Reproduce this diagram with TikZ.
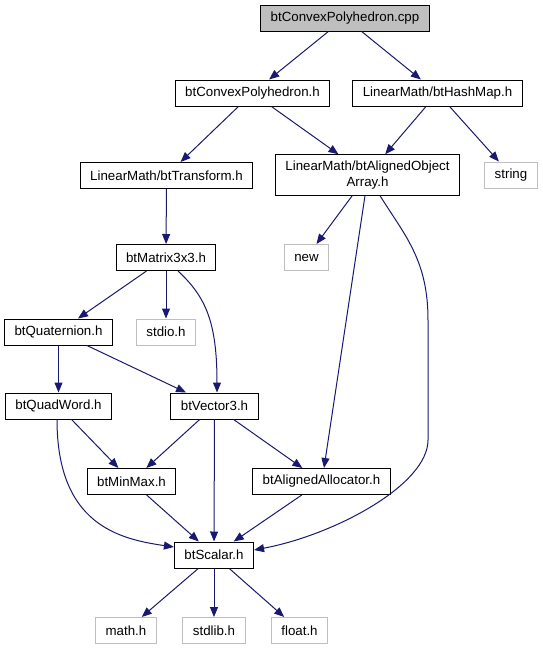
\documentclass[tikz,border=0pt]{standalone}
\usepackage{fontspec}
\setmainfont{Liberation Sans}
\usepackage{xcolor}
\usetikzlibrary{arrows.meta}
\definecolor{edgeblue}{HTML}{191970}
\definecolor{sysgray}{HTML}{BFBFBF}

\begin{document}
\begin{tikzpicture}[x=1pt, y=-1pt,
    file/.style={rectangle,draw=black,line width=1pt,inner xsep=10pt,inner ysep=6pt,minimum height=26pt,align=center,font=\fontsize{13.3}{16}\selectfont},
    sys/.style={file,draw=sysgray},
    root/.style={file,fill=sysgray},
    dep/.style={draw=edgeblue,line width=1pt,-{Triangle[length=10pt,width=8pt]}}]
    \useasboundingbox (0,0) rectangle (543,649);

    \node[root] (cpp) at (345,18) {btConvexPolyhedron.cpp};
    \node[file] (cph) at (252.5,93) {btConvexPolyhedron.h};
    \node[file] (hmap) at (437.5,93) {LinearMath/btHashMap.h};
    \node[file] (trans) at (166.5,175.5) {LinearMath/btTransform.h};
    \node[file] (aoa) at (367.5,175) {LinearMath/btAlignedObject\\Array.h};
    \node[sys] (string) at (511,175) {string};
    \node[file] (mat) at (166,257.5) {btMatrix3x3.h};
    \node[sys] (new) at (306.5,257.5) {new};
    \node[file] (quat) at (58.5,332) {btQuaternion.h};
    \node[sys] (stdio) at (166,332) {stdio.h};
    \node[file] (qword) at (58.5,406) {btQuadWord.h};
    \node[file] (vec) at (214.5,406) {btVector3.h};
    \node[file] (minmax) at (131.5,481.5) {btMinMax.h};
    \node[file] (alloc) at (321.5,481.5) {btAlignedAllocator.h};
    \node[file] (scalar) at (214,555) {btScalar.h};
    \node[sys] (math) at (126,630.5) {math.h};
    \node[sys] (stdlib) at (214,630.5) {stdlib.h};
    \node[sys] (float) at (299.5,630.5) {float.h};

    % includes, top part
    \draw[dep] (cpp) -- (cph);
    \draw[dep] (cpp) -- (hmap);
    \draw[dep] (cph) -- (trans);
    \draw[dep] (cph) -- (aoa);
    \draw[dep] (hmap) -- (aoa);
    \draw[dep] (hmap) -- (string);
    \draw[dep] (trans) -- (mat);
    \draw[dep] (aoa) -- (new);
    \draw[dep] ([xshift=-2.5pt]aoa.south) -- ([xshift=2.5pt]alloc.north);
    \draw[dep] ([xshift=12.5pt]aoa.south) .. controls +(25,40) and +(0,-60) .. (428,320)
        -- (428,440) .. controls +(0,45) and +(80,-15) .. ([yshift=5pt]scalar.east);

    % math headers
    \draw[dep] (mat) -- (quat);
    \draw[dep] (mat) -- (stdio);
    \draw[dep] ([xshift=12pt]mat.south) .. controls +(28,26) and +(0,-70) .. ([xshift=2.5pt]vec.north);
    \draw[dep] (quat) -- (qword);
    \draw[dep] (quat) -- (vec);
    \draw[dep] (qword) -- (minmax);
    \draw[dep] ([xshift=-1.5pt]qword.south) .. controls +(0,105) and +(-55,-8) .. ([yshift=8pt]scalar.west);
    \draw[dep] (vec) -- (minmax);
    \draw[dep] (vec) -- (scalar);
    \draw[dep] (vec) -- (alloc);
    \draw[dep] (minmax) -- (scalar);
    \draw[dep] (alloc) -- (scalar);

    % system headers
    \draw[dep] (scalar) -- (math);
    \draw[dep] (scalar) -- (stdlib);
    \draw[dep] (scalar) -- (float);
\end{tikzpicture}
\end{document}
